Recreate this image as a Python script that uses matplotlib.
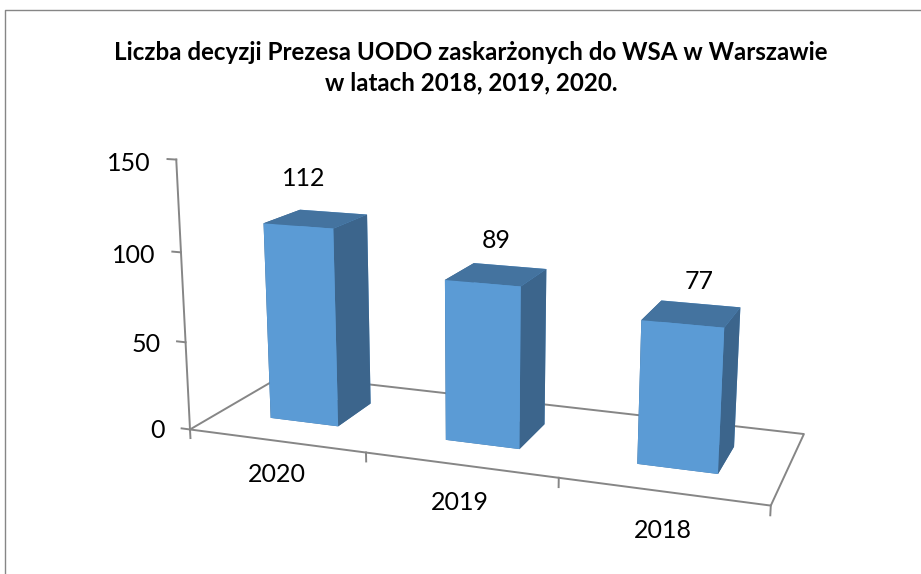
"""Liczba decyzji Prezesa UODO - 3D column chart, camera fitted to the reference."""

import matplotlib
matplotlib.use("Agg")
import matplotlib.pyplot as plt
from matplotlib.lines import Line2D
from mpl_toolkits.mplot3d import proj3d

years = ["2020", "2019", "2018"]
counts = [112, 89, 77]
z_ticks = [0, 50, 100, 150]
title = "Liczba decyzji Prezesa UODO zaskarżonych do WSA w Warszawie\nw latach 2018, 2019, 2020."

W, H = 921, 574
GRAY = "#868686"
FRONT, TOP, SIDE = "#5B9BD5", "#44739F", "#3C658C"
BAR_W, Y0, Y1 = 0.3955, 0.3007, 0.6947

plt.rcParams["font.family"] = ["Lato", "DejaVu Sans"]

fig = plt.figure(figsize=(W / 100, H / 100), dpi=100)
side_px = 667.29
ax = fig.add_axes([153.9 / W, -68.3 / H, side_px / W, side_px / H],
                  projection="3d", computed_zorder=False)
ax.set_xlim(0, 3); ax.set_ylim(0, 1); ax.set_zlim(0, 150)
ax.view_init(14.0854, -70.2932, -0.1811)
ax.set_proj_type("persp", focal_length=0.4026)
ax.set_box_aspect((2.1314, 0.7326, 1.0))
ax.set_axis_off()


def put(x, y, z, s, **kw):
    # project once and keep a flat text, it never needs to rotate
    X, Y, _ = proj3d.proj_transform(x, y, z, ax.get_proj())
    ax.text2D(X, Y, s, transform=ax.transData, fontsize=18, color="black", zorder=3, **kw)


# floor + vertical axis
line = dict(color=GRAY, lw=1.4, zorder=1)
ax.plot([0, 3, 3, 0, 0], [0, 0, 1, 1, 0], [0, 0, 0, 0, 0], **line)
ax.plot([0, 0], [0, 0], [0, z_ticks[-1]], **line)
for z in z_ticks:
    ax.plot([-0.05, 0], [0, 0], [z, z], **line)
    put(-0.15, 0, z - 2.7, str(z), ha="right", va="center")
for i in range(len(years) + 1):
    ax.plot([i, i], [0, 0], [-5, 0], **line)

# colours go -z, +z, -y, +y, -x, +x
for i, v in enumerate(counts):
    ax.bar3d(i + 0.5 - BAR_W / 2, Y0, 0, BAR_W, Y1 - Y0, v, shade=False,
             color=[TOP, TOP, FRONT, FRONT, SIDE, SIDE], linewidth=0, zorder=2)

label_dx = [-0.065, 0.0, 0.03]
label_dz = [22, 18.5, 17]
year_dx = [0.0, 0.0, 0.01]
year_dz = [19.5, 20.5, 20.5]
for i, (y, v) in enumerate(zip(years, counts)):
    put(i + 0.5 + label_dx[i], 0.5, v + label_dz[i], str(v), ha="center", va="center")
    put(i + 0.5 + year_dx[i], 0, -year_dz[i], y, ha="center", va="center")

fig.text(471 / W, 1 - 68 / H, title, ha="center", va="center", fontsize=17.4,
         fontweight="bold", linespacing=1.4, color="black")

# chart frame, cut off by the screenshot
fig.add_artist(Line2D([5 / W, 5 / W, 1], [0, 1 - 10 / H, 1 - 10 / H], color=GRAY, lw=1.0))

fig.savefig("out.png", dpi=100)
